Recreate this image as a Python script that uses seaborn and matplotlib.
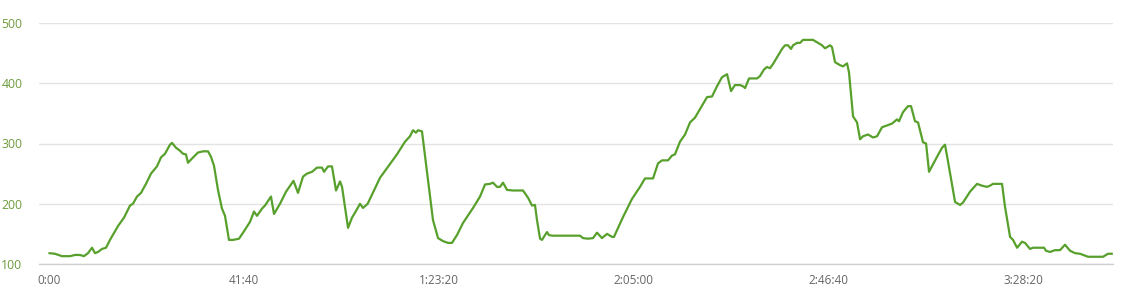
import matplotlib
matplotlib.use("Agg")
import matplotlib.pyplot as plt
import seaborn as sns
import pandas as pd

# elapsed time (seconds) and elevation (m)
time_s = [0, 73, 163, 266, 330, 394, 445, 497, 548, 587, 625, 676, 728, 779, 882, 959,
          1036, 1074, 1126, 1177, 1241, 1305, 1382, 1434, 1485, 1549, 1575, 1626, 1677,
          1716, 1754, 1780, 1831, 1908, 1973, 2037, 2075, 2114, 2165, 2216, 2255, 2306,
          2358, 2435, 2512, 2576, 2627, 2666, 2730, 2768, 2845, 2884, 2961, 3038, 3134,
          3192, 3256, 3307, 3372, 3436, 3500, 3526, 3577, 3628, 3680, 3731, 3757, 3834,
          3885, 3923, 3988, 4026, 4086, 4244, 4462, 4565, 4629, 4668, 4706, 4732, 4783,
          4860, 4924, 4989, 5053, 5117, 5168, 5232, 5309, 5438, 5528, 5592, 5656, 5694,
          5746, 5784, 5823, 5874, 5951, 6079, 6144, 6195, 6233, 6259, 6298, 6323, 6362,
          6387, 6413, 6452, 6811, 6849, 6914, 6978, 7029, 7093, 7158, 7222, 7247, 7363,
          7478, 7581, 7645, 7748, 7812, 7863, 7940, 7992, 8030, 8094, 8159, 8223, 8287,
          8441, 8505, 8569, 8633, 8698, 8749, 8800, 8865, 8903, 8929, 8980, 9083, 9121,
          9173, 9211, 9250, 9288, 9404, 9442, 9480, 9519, 9545, 9596, 9634, 9673, 9801,
          9865, 9917, 9955, 10020, 10045, 10084, 10148, 10186, 10238, 10263, 10315, 10366,
          10405, 10443, 10507, 10571, 10623, 10687, 10751, 10815, 10879, 10905, 10956,
          11020, 11059, 11110, 11149, 11213, 11252, 11290, 11393, 11457, 11495, 11534,
          11624, 11688, 11726, 11816, 11906, 11970, 12034, 12073, 12111, 12227, 12265,
          12330, 12368, 12420, 12484, 12522, 12586, 12625, 12766, 12791, 12843, 12907,
          12971, 13035, 13100, 13164, 13228, 13331, 13523, 13587, 13639]
elevation = [118, 117, 113, 113, 115, 115, 113, 118, 127, 118, 120, 125, 127, 140, 163, 177,
             197, 200, 212, 218, 233, 250, 262, 277, 283, 298, 301, 293, 288,
             283, 282, 268, 275, 285, 287, 287, 278, 263, 223, 192, 180, 140,
             140, 142, 157, 170, 187, 180, 192, 197, 212, 183, 200, 220, 238,
             218, 245, 250, 253, 260, 260, 253, 262, 262, 222, 237, 228, 160,
             177, 185, 200, 193, 200, 243, 282, 303, 312, 322, 318, 322, 320,
             240, 173, 143, 138, 135, 135, 148, 168, 193, 212, 232, 233, 235,
             228, 228, 235, 223, 222, 222, 210, 197, 198, 173, 142, 140, 148,
             153, 148, 147, 147, 143, 142, 143, 152, 143, 150, 145, 145, 178,
             208, 228, 242, 242, 267, 272, 272, 280, 282, 303, 315, 335, 343,
             377, 378, 395, 410, 415, 387, 397, 397, 395, 392, 408, 408, 412,
             423, 427, 425, 432, 457, 463, 463, 457, 463, 467, 467, 472, 472,
             467, 463, 458, 463, 460, 435, 430, 428, 433, 418, 345, 335,
             307, 312, 315, 310, 312, 327, 330, 333, 340, 337, 352,
             362, 362, 337, 335, 302, 300, 253, 278, 293, 298, 270,
             203, 198, 202, 220, 233, 230, 228, 230, 233, 233, 195,
             145, 140, 127, 137, 135, 125, 127, 127, 122, 120, 123,
             123, 132, 122, 118, 117, 112, 112, 117, 117]

x_tick_values = [0, 2500, 5000, 7500, 10000, 12500]
x_tick_labels = ["0:00", "41:40", "1:23:20", "2:05:00", "2:46:40", "3:28:20"]
y_tick_values = [100, 200, 300, 400, 500]

df = pd.DataFrame({"time": time_s, "elevation": elevation})

sns.set_theme(style="white")
plt.rcParams["font.family"] = ["Open Sans", "DejaVu Sans"]

fig = plt.figure(figsize=(11.41, 3.0), dpi=100)
ax = fig.add_axes([39 / 1141, 1 - 264 / 300, (1113 - 39) / 1141, (264 - 23) / 300])

sns.lineplot(data=df, x="time", y="elevation", ax=ax, color="#58a02c", linewidth=1.6,
             zorder=3)

ax.set_xlim(-132, 13651)
ax.set_ylim(100, 500)
ax.set_xticks(x_tick_values)
ax.set_xticklabels(x_tick_labels)
ax.set_yticks(y_tick_values)
ax.set_xlabel("")
ax.set_ylabel("")

ax.grid(axis="y", color="#e3e3e3", linewidth=1.0, zorder=0)
ax.grid(axis="x", visible=False)
for side in ["left", "right", "top"]:
    ax.spines[side].set_visible(False)
ax.spines["bottom"].set_color("#cfcfcf")
ax.spines["bottom"].set_linewidth(1.0)

ax.tick_params(axis="x", length=0, pad=7, labelsize=8.5, labelcolor="#666666")
ax.tick_params(axis="y", length=0, pad=12, labelsize=8.8, labelcolor="#6d9b3c")
for lbl in ax.get_yticklabels():
    lbl.set_verticalalignment("center_baseline")

fig.savefig("out.png", dpi=100)
